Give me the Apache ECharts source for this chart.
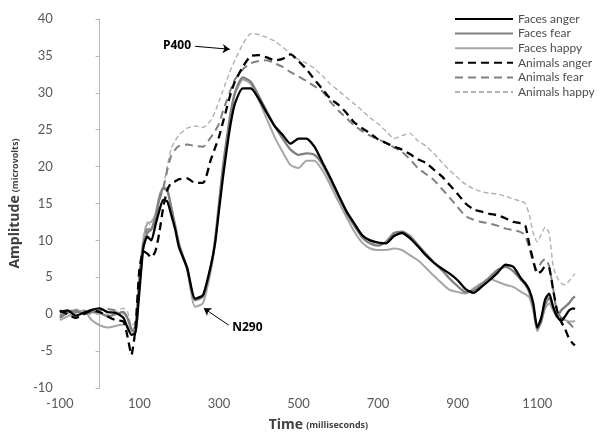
<!DOCTYPE html>
<html>
<head>
<meta charset="utf-8">
<script src="https://cdn.jsdelivr.net/npm/echarts@6/dist/echarts.min.js"></script>
<style>
  html, body { margin: 0; padding: 0; background: #fff; }
  #main { width: 601px; height: 439px; }
</style>
</head>
<body>
<div id="main"></div>
<script>
// time points (ms)
var times = [
    -100, -80, -60, -40, -20, 0, 20, 40, 60,
    70, 80, 90, 100, 110, 120, 130, 140, 150, 160, 170, 180, 190, 200,
    220, 240, 260, 280,
    290, 300, 310, 320, 330, 340,
    360, 380, 400, 420, 440, 460, 480, 500, 520, 540, 560, 580, 600, 620, 640, 660, 680, 700,
    720, 740, 760, 780, 800, 820, 840, 860, 880, 900, 920, 940, 960, 980, 1000, 1020, 1040, 1060,
    1070, 1080, 1090, 1100, 1110, 1120, 1130, 1140, 1150, 1160, 1170, 1180, 1190, 1195
];

var facesAnger = [
    0.3, 0.5, -0.2, 0.2, 0.6, 0.8, 0.3, 0.2, -0.5,
    -1.8, -2.8, -2.5, 3, 9, 10.5, 10, 12, 14, 15.5, 15.3, 13.5, 11.5, 9,
    6.3, 2.1, 2.6, 6.7,
    9.5, 14, 18.5, 22.5, 26, 28.5,
    30.6, 30.6, 29.2, 27.3, 25.5, 24.3, 23.1, 23.8, 23.8, 22.7, 20.6, 18.5, 16.2, 14, 12.3, 10.7, 10, 9.7,
    9.6, 10.6, 11, 10.3, 9.2, 8, 7, 6.2, 5.5, 4.6, 3.4, 2.9, 3.7, 4.6, 5.6, 6.7, 6.4, 4.8,
    4.2, 3.3, 1.5, -1.8, -0.5, 2, 2.8, 1, -0.3, -0.9, -0.3, 0.5, 0.8, 0.7
];

var facesFear = [
    -0.5, 0.2, 0.5, 0, 0.3, 0.2, -0.3, 0, 0.3,
    -0.5, -2, -2.5, 4, 9.5, 11, 11.5, 13, 15.5, 17, 16.8, 14.5, 12, 9.5,
    6.2, 1.9, 2.4, 6.5,
    10, 15, 20, 24, 27.5, 30,
    32.1, 31.5, 29.6, 27.5, 25.5, 23.8, 22.3, 21.6, 21.8, 21.6, 20.3, 18.2, 16, 13.8, 12, 10.4, 9.6, 9.3,
    9.8, 11, 11.2, 10.6, 9.4, 8.2, 7, 6, 4.8, 3.8, 3, 3.2, 4, 5, 6, 6.4, 5.8, 4.6,
    4, 3, 1, -2, -1, 1.3, 2.2, 1, -0.4, 0.5, 1, 1.5, 2.2, 2.4
];

var facesHappy = [
    -0.8, -0.3, 0.2, 0.5, -0.8, -1.5, -1.8, -1.6, -1.4,
    -1.6, -2.4, -1.5, 5, 10, 12.3, 12.5, 13.5, 16, 17.2, 17, 14.5, 12, 9.2,
    6, 1.0, 1.5, 6,
    9.5, 14.5, 19.5, 23.5, 27, 29.8,
    31.8, 31.2, 29, 26.5, 24, 22, 20.2, 19.8, 20.8, 20.8, 19.5, 17.5, 15.3, 13.2, 11.2, 9.7, 8.9, 8.7,
    8.7, 8.9, 8.7, 8, 7.3, 6.3, 5.2, 4.2, 3.3, 3, 2.8, 3.5, 4.2, 4.8, 4.4, 4, 3.7, 3,
    2.7, 2.3, 0.5, -2.3, -1, 0.8, 1.5, 0.5, -0.4, -0.8, -0.8, -1, -1, -0.9
];

var animalsAnger = [
    0.5, 0, -0.5, 0, 0.5, 0.3, -0.3, -0.8, -1,
    -3, -5.5, -2, 6, 8.5, 8.2, 7.7, 8.5, 11, 14.5, 16.8, 17.8, 18, 18.3,
    18.4, 17.8, 17.8, 21,
    22.5, 24, 26, 28, 30, 31.5,
    33.5, 35, 35.1, 34.8, 34.4, 34.6, 35.2, 34.3, 33.2, 31.8, 30.5, 29.2, 28.4, 27.3, 26, 25.2, 24.5, 23.7,
    23.2, 22.7, 22.3, 21.7, 21, 20.5, 19.6, 18.7, 17.5, 16.3, 15, 14.2, 13.9, 13.6, 13.4, 13, 12.5, 12.3,
    12, 9.5, 7.3, 5.5, 5.8, 6.5, 6.3, 3.3, 0.5, -1, -2, -3.3, -4, -4.2
];

var animalsFear = [
    -0.3, 0.5, 0.3, 0.5, 0, 0.5, 0.7, 0.5, 0.2,
    -0.5, -1.8, -1.5, 5, 9.5, 11.5, 11.5, 13, 15.5, 17, 19.5, 21.5, 22.3, 22.8,
    23, 22.8, 22.7, 24,
    24.8, 25.8, 27.5, 29, 30.5, 31.8,
    33.2, 34, 34.3, 34.4, 34, 33.5, 32.8, 32.2, 31.6, 30.9, 30.2, 28.8, 27.6, 26.6, 25.6, 24.8, 24.2, 23.7,
    23.2, 22.6, 22, 21, 19.8, 19, 18.2, 17, 15.8, 14.5, 13.3, 12.8, 12.5, 12.3, 12, 11.6, 11.4, 11.1,
    10.6, 9, 7, 6, 7, 7.5, 6.5, 3.5, 0.2, -0.4, -0.8, -1.2, -1.8, -2.2
];

var animalsHappy = [
    0, 0.3, 0.7, 0.3, 0.6, 0.2, 0, 0.3, 0.8,
    0.4, -1.5, -1, 5.5, 10.5, 12.5, 12, 13, 16, 17.3, 20, 22.5, 23.5, 24.3,
    25.2, 25.5, 25.3, 26.3,
    27.4, 28.8, 30.3, 31.8, 33.2, 34.4,
    36.6, 38, 37.9, 37.5, 37, 36.2, 35.3, 34.5, 34, 33.3, 32.3, 31.2, 30.3, 29.4, 28.5, 27.6, 26.6, 25.8,
    24.8, 23.8, 24.2, 24.5, 23.5, 22.8, 21.8, 20.6, 19.5, 18.5, 17.6, 17, 16.6, 16.4, 16.3, 16, 15.6, 15.3,
    15, 13.5, 11, 9.8, 10.8, 11.8, 11, 6.5, 5, 4.2, 4, 4.5, 5.2, 5.5
];

var xTickLabels = [-100, 100, 300, 500, 700, 900, 1100];

function pairs(vals) {
    return times.map(function (t, i) { return [t, vals[i]]; });
}

var myChart = echarts.init(document.getElementById('main'), null, { renderer: 'canvas' });

var option = {
    animation: false,
    backgroundColor: '#fff',
    textStyle: { fontFamily: 'Lato' },
    legend: {
        orient: 'vertical',
        left: 449,
        top: 7,
        itemWidth: 58,
        itemHeight: 14,
        itemGap: 0.6,
        itemStyle: { opacity: 0 },
        textStyle: { color: '#4d4d4d', fontSize: 12, lineHeight: 14, fontFamily: 'Lato' },
        data: ['Faces anger', 'Faces fear', 'Faces happy', 'Animals anger', 'Animals fear', 'Animals happy']
    },
    grid: {
        left: 57,
        right: 24,
        top: 19,
        bottom: 51
    },
    xAxis: {
        type: 'value',
        min: -100,
        max: 1200,
        name: '{b|Time} {s|(milliseconds)}',
        nameLocation: 'middle',
        nameGap: 30,
        nameTextStyle: {
            rich: {
                b: { fontSize: 14, fontWeight: 'bold', color: '#404040', fontFamily: 'Open Sans' },
                s: { fontSize: 9, fontWeight: 'bold', color: '#404040', fontFamily: 'Open Sans' }
            }
        },
        axisLine: { show: false },
        axisTick: { show: false },
        splitLine: { show: false },
        axisLabel: {
            customValues: xTickLabels,
            formatter: function (v) { return String(v); },
            color: '#595959',
            fontSize: 13,
            margin: 9
        }
    },
    yAxis: {
        type: 'value',
        min: -10,
        max: 40,
        interval: 5,
        name: '{b|Amplitude} {s|(microvolts)}',
        nameLocation: 'middle',
        nameGap: 33,
        nameRotate: 90,
        nameTextStyle: {
            rich: {
                b: { fontSize: 14, fontWeight: 'bold', color: '#404040', fontFamily: 'Open Sans' },
                s: { fontSize: 9, fontWeight: 'bold', color: '#404040', fontFamily: 'Open Sans' }
            }
        },
        axisLine: { show: true, lineStyle: { color: '#b8b8b8', width: 1 } },
        axisTick: { show: true, length: 4, lineStyle: { color: '#b8b8b8' } },
        splitLine: { show: false },
        axisLabel: { color: '#595959', fontSize: 13, margin: 7 }
    },
    series: [
        {
            name: 'Faces anger',
            type: 'line',
            showSymbol: false,
            symbol: 'none',
            smooth: 0.2,
            z: 6,
            color: '#000000',
            lineStyle: { color: '#000000', width: 2.3 },
            data: pairs(facesAnger)
        },
        {
            name: 'Faces fear',
            type: 'line',
            showSymbol: false,
            symbol: 'none',
            smooth: 0.2,
            z: 5,
            color: '#808080',
            lineStyle: { color: '#808080', width: 2.3 },
            data: pairs(facesFear)
        },
        {
            name: 'Faces happy',
            type: 'line',
            showSymbol: false,
            symbol: 'none',
            smooth: 0.2,
            z: 4,
            color: '#a6a6a6',
            lineStyle: { color: '#a6a6a6', width: 2 },
            data: pairs(facesHappy)
        },
        {
            name: 'Animals anger',
            type: 'line',
            showSymbol: false,
            symbol: 'none',
            smooth: 0.2,
            z: 6,
            color: '#000000',
            lineStyle: { color: '#000000', width: 2.3, type: [8, 5] },
            data: pairs(animalsAnger)
        },
        {
            name: 'Animals fear',
            type: 'line',
            showSymbol: false,
            symbol: 'none',
            smooth: 0.2,
            z: 5,
            color: '#808080',
            lineStyle: { color: '#808080', width: 2, type: [8, 5] },
            data: pairs(animalsFear)
        },
        {
            name: 'Animals happy',
            type: 'line',
            showSymbol: false,
            symbol: 'none',
            smooth: 0.2,
            z: 4,
            color: '#b0b0b0',
            lineStyle: { color: '#b0b0b0', width: 1.4, type: [5, 3] },
            data: pairs(animalsHappy),
            // arrows for the P400 / N290 notes
            markLine: {
                silent: true,
                symbol: ['none', 'arrow'],
                symbolSize: 7,
                lineStyle: { color: '#000', type: 'solid', width: 1 },
                label: {
                    show: true,
                    position: 'start',
                    color: '#000',
                    fontWeight: 'bold',
                    fontSize: 12,
                    fontFamily: 'Open Sans',
                    distance: 4
                },
                data: [
                    [{ coord: [240, 36.3], label: { formatter: 'P400' } }, { coord: [327, 35.9] }],
                    [{ coord: [325, -1.5], label: { formatter: 'N290' } }, { coord: [262, 0.8] }]
                ]
            }
        }
    ]
};

myChart.setOption(option);
</script>
</body>
</html>
